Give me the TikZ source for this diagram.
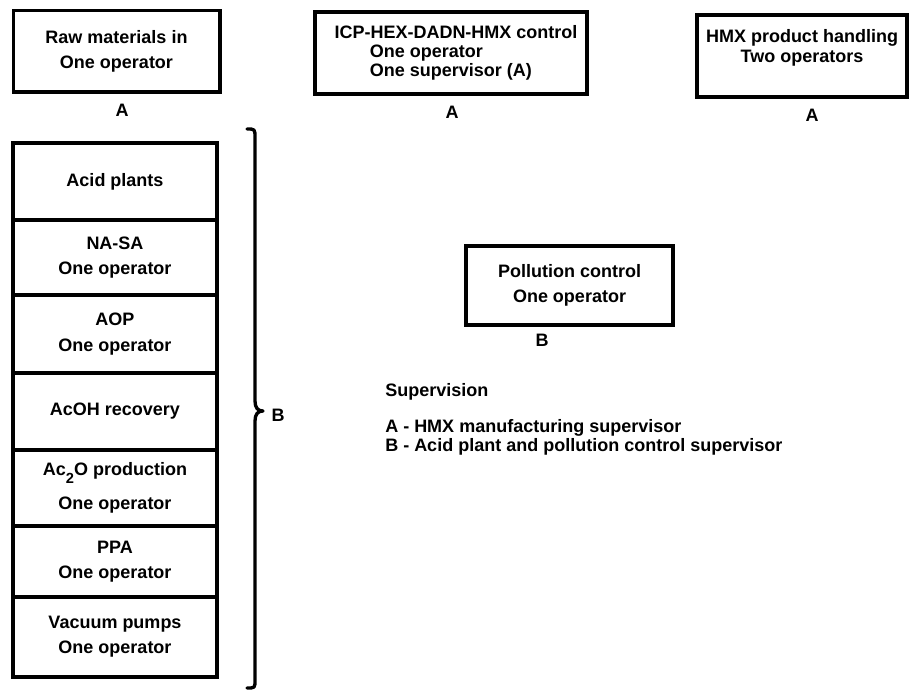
\documentclass[tikz,border=0pt]{standalone}
\usepackage{fontspec}
\setmainfont{Liberation Sans}
\begin{document}
\begin{tikzpicture}[x=0.75pt,y=-0.75pt,
  txt/.style={font=\fontsize{13.5}{19}\selectfont\bfseries, inner sep=0pt, align=center},
  box/.style={txt, draw, line width=2.5pt},
  comp/.style={box, minimum width=153pt},
  lbl/.style={font=\fontsize{13.5}{16}\selectfont\bfseries, inner sep=0pt}]
\useasboundingbox (0,0) rectangle (909,691);
\fill[white] (0,0) rectangle (909,691);
% top row
\node[box, minimum width=155pt, minimum height=61pt] (raw) at (116.5,51.5) {Raw materials in\\One operator};
\node[lbl] (rawA) at (122,110) {A};
\node[box, minimum width=204pt, minimum height=61.5pt, align=left, font=\fontsize{13.5}{14.5}\selectfont\bfseries] (icp) at (451,53)
  {\hspace*{7.5pt}ICP-HEX-DADN-HMX control\\\hspace*{34pt}One operator\\\hspace*{34pt}One supervisor (A)};
\node[lbl] (icpA) at (452,112) {A};
\node[box, minimum width=157.5pt, minimum height=61.5pt] (hmxbox) at (802,56) {};
\node[txt, font=\fontsize{13.5}{15}\selectfont\bfseries] (hmx) at (802,48) {HMX product handling\\Two operators};
\node[lbl] (hmxA) at (812,115) {A};
% stack
\node[comp, minimum height=57.75pt] (c1) at (115,181.5) {Acid plants};
\node[comp, minimum height=56.25pt] (c2) at (115,257.5) {NA-SA\\One operator};
\node[comp, minimum height=58.5pt] (c3) at (115,334) {AOP\\One operator};
\node[comp, minimum height=57.75pt] (c4) at (115,411.5) {AcOH recovery};
\node[comp, minimum height=57pt, font=\fontsize{13.5}{25}\selectfont\bfseries] (c5) at (115,488) {Ac\raisebox{-0.75ex}{\fontsize{11}{11}\selectfont 2}O production\\One operator};
\node[comp, minimum height=53.25pt] (c6) at (115,561.5) {PPA\\One operator};
\node[comp, minimum height=60pt] (c7) at (115,637) {Vacuum pumps\\One operator};
% brace
\coordinate (bt) at (247,129);
\coordinate (bb) at (247,688);
\coordinate (tip) at (263,411);
\draw[line width=2.5pt, line cap=round, line join=round]
  (bt) .. controls (255,129) .. (255,138) -- (255,401)
  .. controls (255,408) and (258,411) .. (tip)
  .. controls (258,411) and (255,414) .. (255,421) -- (255,680)
  .. controls (255,688) .. (bb);
\node[lbl] (B) at (278,415) {B};
% pollution
\node[box, minimum width=155.25pt, minimum height=59.25pt] (pol) at (569.5,285.5) {Pollution control\\One operator};
\node[lbl] (polB) at (542,340) {B};
% legend
\node[lbl, anchor=west] (sup) at (385,392) {Supervision};
\node[lbl, anchor=west] (legA) at (385,428) {A - HMX manufacturing supervisor};
\node[lbl, anchor=west] (legB) at (385,447) {B - Acid plant and pollution control supervisor};
\end{tikzpicture}
\end{document}
